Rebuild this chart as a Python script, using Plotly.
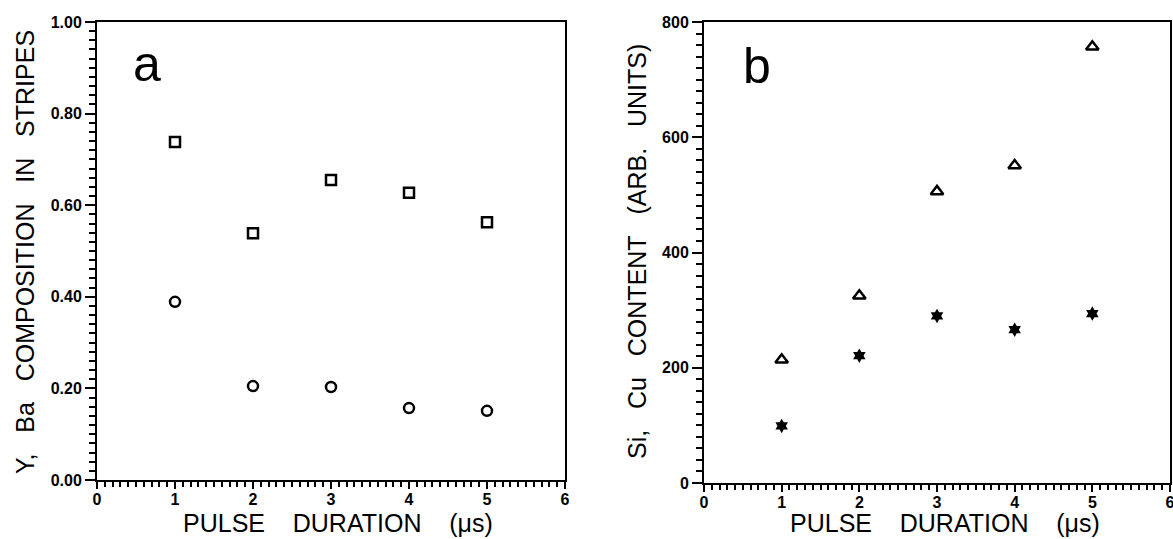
import plotly.graph_objects as go

# ---- data ----
pulse_duration = [1, 2, 3, 4, 5]
y_comp_squares = [0.738, 0.539, 0.655, 0.627, 0.563]
ba_comp_circles = [0.389, 0.205, 0.203, 0.157, 0.151]
si_cu_triangles = [214, 325, 506, 551, 757]
si_cu_stars = [99, 221, 290, 266, 294]

xticks = [0, 1, 2, 3, 4, 5, 6]
yticks_a = [0.0, 0.2, 0.4, 0.6, 0.8, 1.0]
yticks_b = [0, 200, 400, 600, 800]

W, H = 1173, 539

def px_x(p):
    return p / W

def px_y(p):
    return 1 - p / H

fig = go.Figure()

fig.add_trace(go.Scatter(x=pulse_duration, y=y_comp_squares, mode="markers",
                         marker=dict(symbol="square-open", size=10, color="black",
                                     line=dict(width=2.5, color="black")),
                         xaxis="x", yaxis="y", showlegend=False))
fig.add_trace(go.Scatter(x=pulse_duration, y=ba_comp_circles, mode="markers",
                         marker=dict(symbol="circle-open", size=10, color="black",
                                     line=dict(width=2.5, color="black")),
                         xaxis="x", yaxis="y", showlegend=False))
fig.add_trace(go.Scatter(x=pulse_duration, y=si_cu_triangles, mode="markers",
                         marker=dict(symbol="triangle-up-open", size=11, color="black",
                                     line=dict(width=2.5, color="black")),
                         xaxis="x2", yaxis="y2", showlegend=False))
fig.add_trace(go.Scatter(x=pulse_duration, y=si_cu_stars, mode="markers",
                         marker=dict(symbol="hexagram", size=11, color="black",
                                     line=dict(width=0)),
                         xaxis="x2", yaxis="y2", showlegend=False))

tickfont = dict(family="Liberation Sans, Arial, sans-serif", size=16, color="black", weight="bold")

common_x = dict(range=[0, 6], tickvals=xticks, ticktext=[str(v) for v in xticks],
                ticks="outside", ticklen=7, tickwidth=2, tickcolor="black",
                minor=dict(dtick=0.1, ticks="outside", ticklen=5, tickwidth=1.5, tickcolor="black"),
                showline=True, linecolor="black", linewidth=2, mirror=True,
                showgrid=False, zeroline=False, tickfont=tickfont, automargin=False,
                ticklabelstandoff=-3, ticklabeloverflow="allow")

fig.update_layout(
    width=W, height=H,
    margin=dict(l=0, r=0, t=0, b=0),
    paper_bgcolor="white", plot_bgcolor="white",
    xaxis=dict(domain=[px_x(97), px_x(565)], anchor="y", **common_x),
    yaxis=dict(domain=[px_y(480), px_y(22)], anchor="x", range=[0, 1],
               tickvals=yticks_a, tickformat=".2f",
               ticks="outside", ticklen=10, tickwidth=2, tickcolor="black",
               minor=dict(dtick=0.02, ticks="outside", ticklen=6, tickwidth=1.5, tickcolor="black"),
               showline=True, linecolor="black", linewidth=2, mirror=True,
               showgrid=False, zeroline=False, tickfont=tickfont, automargin=False,
               ticklabeloverflow="allow"),
    xaxis2=dict(domain=[px_x(704), px_x(1170)], anchor="y2", **common_x),
    yaxis2=dict(domain=[px_y(483), px_y(22)], anchor="x2", range=[0, 800],
                tickvals=yticks_b,
                ticks="outside", ticklen=10, tickwidth=2, tickcolor="black",
                minor=dict(dtick=20, ticks="outside", ticklen=6, tickwidth=1.5, tickcolor="black"),
                showline=True, linecolor="black", linewidth=2, mirror=True,
                showgrid=False, zeroline=False, tickfont=tickfont, automargin=False,
                ticklabeloverflow="allow"),
)

title_font = dict(family="Liberation Sans, Arial, sans-serif", size=25, color="black")
big_font = dict(family="Liberation Sans, Arial, sans-serif", size=50, color="black")
sp3 = "\u00a0\u00a0\u00a0"
sp4 = "\u00a0\u00a0\u00a0\u00a0"

def ann(text, x, y, font, angle=0):
    return dict(text=text, x=px_x(x), y=px_y(y), xref="paper", yref="paper",
                xanchor="center", yanchor="middle", showarrow=False,
                textangle=angle, font=font)

annotations = [
    ann("a", 147, 64, big_font),
    ann("b", 757, 66, big_font),
    ann(f"PULSE{sp4}DURATION{sp4}(\u03bcs)", 338, 523, title_font),
    ann(f"PULSE{sp4}DURATION{sp4}(\u03bcs)", 945, 523, title_font),
    ann(f"Y,{sp3}Ba{sp3}COMPOSITION{sp3}IN{sp3}STRIPES", 25, 252, title_font, -90),
    ann(f"Si,{sp3}Cu{sp3}CONTENT{sp3}(ARB.{sp3}UNITS)", 637, 252, title_font, -90),
]
fig.update_layout(annotations=annotations)

fig.write_html("out.html")
